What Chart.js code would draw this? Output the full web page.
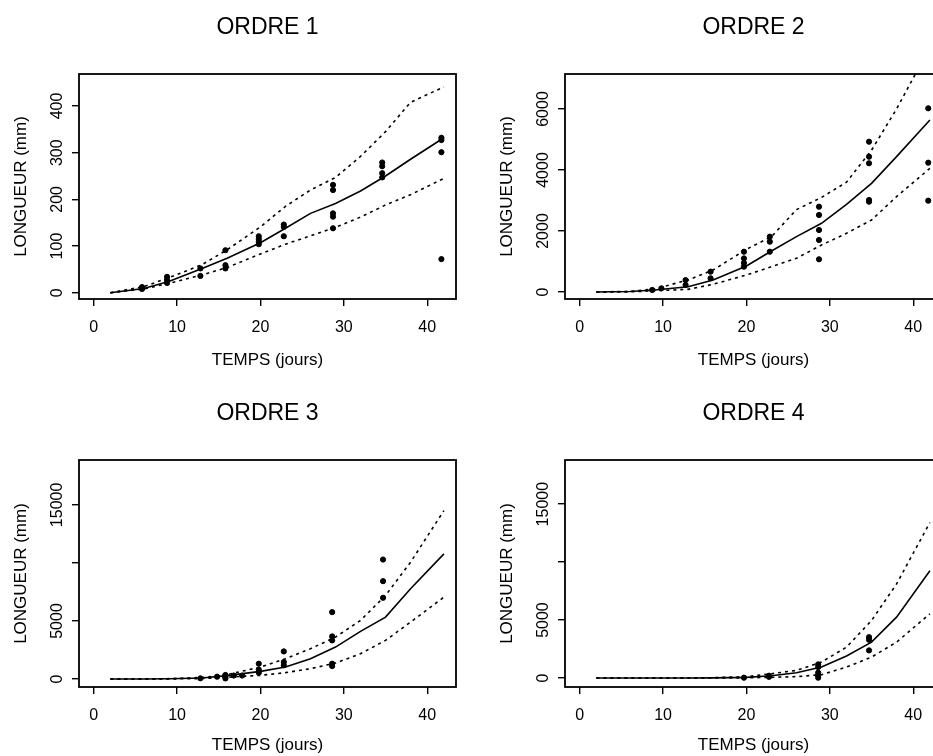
<!DOCTYPE html>
<html>
<head>
<meta charset="utf-8">
<script src="https://cdn.jsdelivr.net/npm/chart.js@4.4.1/dist/chart.umd.min.js"></script>
<style>
  html, body { margin: 0; padding: 0; background: #fff; overflow: hidden; }
  #wrap { position: relative; width: 933px; height: 756px; overflow: hidden; }
  #wrap canvas { position: absolute; }
</style>
</head>
<body>
<div id="wrap">
  <canvas id="c1" width="470" height="388" style="left:0;top:0"></canvas>
  <canvas id="c2" width="470" height="388" style="left:486px;top:0"></canvas>
  <canvas id="c3" width="470" height="370" style="left:0;top:386px"></canvas>
  <canvas id="c4" width="470" height="370" style="left:486px;top:386px"></canvas>
</div>
<script>
// days at which the fitted curve and its bounds are drawn
const curveDays = [2, 6, 9, 13, 16, 20, 23, 26, 29, 32, 35, 38, 42];
const xTicks = [0, 10, 20, 30, 40];

// ORDRE 1
const fit1 = [0, 9, 24, 52, 74, 107, 138, 170, 191, 218, 250, 286, 332];
const upper1 = [0, 13, 32, 60, 92, 141, 185, 220, 247, 292, 345, 408, 441];
const lower1 = [0, 8, 20, 38, 54, 83, 104, 122, 140, 162, 188, 210, 245];
const obsDays1 = [5.8, 5.8, 5.8, 8.8, 8.8, 8.8, 12.8, 12.8, 15.8, 15.8, 15.8, 19.8, 19.8, 19.8, 19.8,
  22.8, 22.8, 22.8, 28.7, 28.7, 28.7, 28.7, 28.7, 34.6, 34.6, 34.6, 34.6, 41.7, 41.7, 41.7, 41.7];
const obsLen1 = [8, 10, 12, 34, 27, 21, 52, 36, 91, 59, 52, 121, 115, 109, 104,
  146, 141, 121, 231, 220, 170, 163, 138, 279, 271, 256, 247, 332, 327, 301, 72];
const yTicks1 = [0, 100, 200, 300, 400];
const yLabels1 = ['0', '100', '200', '300', '400'];

// ORDRE 2
const fit2 = [0, 15, 66, 174, 393, 852, 1344, 1814, 2252, 2870, 3563, 4437, 5640];
const upper2 = [0, 20, 100, 393, 721, 1400, 1814, 2700, 3100, 3600, 4650, 6000, 8030];
const lower2 = [0, 5, 40, 87, 252, 557, 830, 1104, 1541, 1924, 2361, 3125, 4056];
const obsDays2 = [8.7, 9.8, 12.7, 12.7, 15.7, 15.7, 19.7, 19.7, 19.7, 19.7, 22.8, 22.8, 22.8,
  28.7, 28.7, 28.7, 28.7, 28.7, 34.7, 34.7, 34.7, 34.7, 34.7, 41.8, 41.8, 41.8];
const obsLen2 = [66, 120, 390, 230, 666, 449, 1321, 1100, 950, 830, 1814, 1650, 1321,
  2797, 2525, 2033, 1705, 1072, 4928, 4436, 4220, 3016, 2961, 6023, 4240, 2993];
const yTicks2 = [0, 2000, 4000, 6000];
const yLabels2 = ['0', '2000', '4000', '6000'];

// ORDRE 3
const fit3 = [0, 0, 20, 86, 290, 660, 1032, 1750, 2752, 4100, 5333, 7775, 10785];
const upper3 = [0, 0, 30, 130, 376, 1032, 1750, 2610, 3612, 5049, 7199, 10063, 14510];
const lower3 = [0, 0, 5, 40, 150, 318, 548, 893, 1376, 2184, 3328, 4902, 7053];
const obsDays3 = [12.8, 14.8, 15.8, 15.8, 15.8, 16.8, 17.8, 19.8, 19.8, 19.8, 22.8, 22.8, 22.8,
  28.6, 28.6, 28.6, 28.6, 28.6, 34.7, 34.7, 34.7];
const obsLen3 = [60, 200, 350, 200, 50, 300, 300, 1320, 806, 548, 2380, 1462, 1180,
  5763, 3672, 3328, 1320, 1118, 10295, 8430, 7000];
const yTicks3 = [0, 5000, 10000, 15000];
const yLabels3 = ['0', '5000', '', '15000'];

// ORDRE 4
const fit4 = [0, 0, 0, 5, 15, 60, 200, 460, 946, 1900, 3100, 5250, 9260];
const upper4 = [0, 0, 0, 10, 30, 120, 372, 660, 1376, 2666, 4962, 8117, 13417];
const lower4 = [0, 0, 0, 0, 5, 20, 60, 120, 290, 946, 1806, 3096, 5539];
const obsDays4 = [19.7, 22.7, 22.7, 28.6, 28.6, 28.6, 28.6, 28.6, 34.7, 34.7, 34.7];
const obsLen4 = [30, 100, 200, 1178, 946, 460, 230, 30, 3526, 3300, 2382];
const yTicks4 = [0, 5000, 10000, 15000];
const yLabels4 = ['0', '5000', '', '15000'];

Chart.defaults.font.family = "'Liberation Sans', Arial, Helvetica, sans-serif";
Chart.defaults.color = '#000';

const tickFont = { size: 16 };
const measureCtx = document.createElement('canvas').getContext('2d');
measureCtx.font = "16px 'Liberation Sans', Arial, Helvetica, sans-serif";

// R-style frame around the plot region
const framePlugin = {
  id: 'frame',
  afterDatasetsDraw(chart) {
    const { ctx, chartArea: a } = chart;
    ctx.save();
    ctx.lineWidth = 1.8;
    ctx.strokeStyle = '#000';
    ctx.strokeRect(a.left, a.top, a.right - a.left, a.bottom - a.top);
    ctx.restore();
  }
};

const toPoints = (xs, ys) => xs.map((x, i) => ({ x: x, y: ys[i] }));

function makePanel(id, title, fit, upper, lower, obsX, obsY, yTicks, yLabels, yMin, yMax, bottomRow) {
  const widest = Math.max(...yLabels.map(l => measureCtx.measureText(l).width));
  const canvasH = bottomRow ? 370 : 388;
  const chartBottom = bottomRow ? 301 : 299;

  const dashed = (data) => ({
    type: 'line',
    data: toPoints(curveDays, data),
    borderColor: '#000',
    borderWidth: 1.6,
    borderDash: [3, 4],
    pointRadius: 0,
    fill: false,
    tension: 0
  });

  return new Chart(document.getElementById(id), {
    type: 'scatter',
    data: {
      datasets: [
        {
          type: 'line',
          data: toPoints(curveDays, fit),
          borderColor: '#000',
          borderWidth: 1.6,
          pointRadius: 0,
          fill: false,
          tension: 0
        },
        dashed(upper),
        dashed(lower),
        {
          data: toPoints(obsX, obsY),
          backgroundColor: '#000',
          borderColor: '#000',
          pointRadius: 2.6,
          showLine: false
        }
      ]
    },
    options: {
      responsive: false,
      animation: false,
      devicePixelRatio: 1,
      layout: { padding: { right: 14 } },
      plugins: {
        legend: { display: false },
        tooltip: { enabled: false },
        title: {
          display: true,
          text: title,
          fullSize: false,
          font: { size: 23, weight: 'normal' },
          padding: { top: 14.2, bottom: 32.2 }
        }
      },
      scales: {
        x: {
          type: 'linear',
          min: -1.76,
          max: 43.45,
          afterBuildTicks: s => { s.ticks = xTicks.map(v => ({ value: v })); },
          afterFit: s => { s.height = canvasH - chartBottom; },
          ticks: {
            font: tickFont,
            padding: 12.4,
            maxRotation: 0,
            autoSkip: false,
            callback: v => String(v)
          },
          grid: { drawOnChartArea: false, drawTicks: true, tickLength: 7, color: '#000', lineWidth: 1.4 },
          border: { display: false },
          title: {
            display: true,
            text: 'TEMPS (jours)',
            font: { size: 17 },
            padding: { top: 0, bottom: bottomRow ? 0.8 : 17.8 }
          }
        },
        y: {
          type: 'linear',
          min: yMin,
          max: yMax,
          afterBuildTicks: s => { s.ticks = yTicks.map(v => ({ value: v })); },
          afterFit: s => { s.width = 79; },
          ticks: {
            font: tickFont,
            minRotation: 90,
            maxRotation: 90,
            crossAlign: 'center',
            padding: 14 - widest / 2,
            autoSkip: false,
            callback: (v, i) => yLabels[i]
          },
          grid: { drawOnChartArea: false, drawTicks: true, tickLength: 7, color: '#000', lineWidth: 1.4 },
          border: { display: false },
          title: {
            display: true,
            text: 'LONGUEUR (mm)',
            font: { size: 17 },
            padding: { top: 10.8, bottom: 0 }
          }
        }
      }
    },
    plugins: [framePlugin]
  });
}

makePanel('c1', 'ORDRE 1', fit1, upper1, lower1, obsDays1, obsLen1, yTicks1, yLabels1, -13.5, 468.6, false);
makePanel('c2', 'ORDRE 2', fit2, upper2, lower2, obsDays2, obsLen2, yTicks2, yLabels2, -230, 7147, false);
makePanel('c3', 'ORDRE 3', fit3, upper3, lower3, obsDays3, obsLen3, yTicks3, yLabels3, -688, 18870, true);
makePanel('c4', 'ORDRE 4', fit4, upper4, lower4, obsDays4, obsLen4, yTicks4, yLabels4, -774, 18810, true);
</script>
</body>
</html>
